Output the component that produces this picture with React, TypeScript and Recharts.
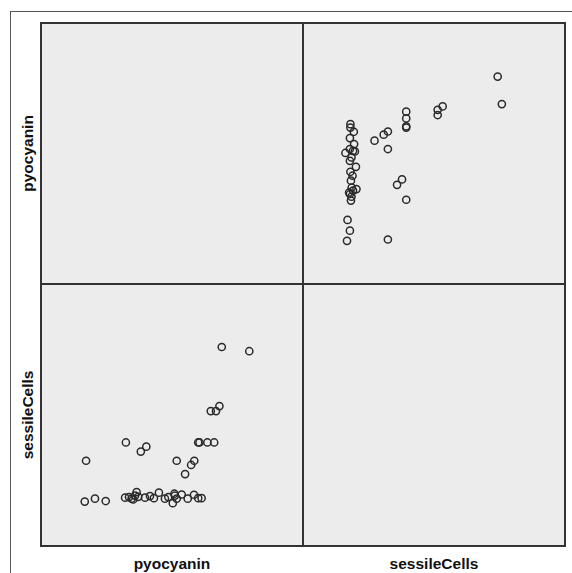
import React from "react";
import { ScatterChart, Scatter, XAxis, YAxis } from "recharts";

// Paired observations (scaled units, 0-100 range of each variable)
const pyocyanin: number[] = [
  79.5, 69.0, 68.1, 66.8, 64.8, 66.1, 63.5, 60.0, 60.5, 58.5,
  57.3, 55.0, 51.8, 40.2, 38.1, 32.4, 17.2, 24.7, 20.6, 16.7,
  61.3, 60.0, 58.4, 56.0, 53.7, 51.8, 50.3, 51.1, 50.9, 48.6,
  47.3, 45.0, 43.1, 41.6, 39.7, 37.1, 36.5, 34.6, 33.6, 32.1,
  35.9, 35.2,
];
const sessileCells: number[] = [
  74.3, 75.9, 53.3, 51.4, 51.4, 39.4, 39.4, 39.4, 39.4, 32.4,
  30.8, 27.3, 32.4, 37.8, 35.9, 39.4, 32.4, 17.0, 17.9, 16.8,
  18.1, 18.1, 19.4, 17.9, 19.5, 17.9, 16.2, 19.1, 19.8, 18.5,
  17.9, 20.2, 18.1, 18.9, 18.3, 18.6, 20.4, 17.9, 18.5, 18.3,
  19.1, 17.6,
];
const variables: string[] = ["pyocyanin", "sessileCells"];
const axisDomain: [number, number] = [0, 100];

const data = pyocyanin.map((p, i) => ({ pyocyanin: p, sessileCells: sessileCells[i] }));

const PANEL_W = 262;
const PANEL_H = 261.5;
const LEFT = 41;
const TOP = 22.7;

const ringShape = (props: any) => {
  const { cx, cy } = props;
  if (cx == null || cy == null) return <g />;
  return <circle cx={cx} cy={cy} r={3.6} fill="none" stroke="#2a2a2a" strokeWidth={1.5} />;
};

function Panel({ xKey, yKey }: { xKey?: string; yKey?: string }) {
  return (
    <div
      style={{
        width: PANEL_W,
        height: PANEL_H,
        background: "#ececec",
        position: "relative",
      }}
    >
      {xKey && yKey ? (
        <ScatterChart
          width={PANEL_W}
          height={PANEL_H}
          margin={{ top: 0, right: 0, bottom: 0, left: 0 }}
        >
          <XAxis type="number" dataKey={xKey} domain={axisDomain} hide />
          <YAxis type="number" dataKey={yKey} domain={axisDomain} hide />
          <Scatter data={data} shape={ringShape} isAnimationActive={false} />
        </ScatterChart>
      ) : null}
    </div>
  );
}

export default function App() {
  const font = '"Liberation Sans", Arial, Helvetica, sans-serif';
  return (
    <div
      style={{
        position: "absolute",
        left: 0,
        top: 0,
        width: 572,
        height: 573,
        background: "#ffffff",
        overflow: "hidden",
        fontFamily: font,
      }}
    >
      {/* outer frame */}
      <div
        style={{
          position: "absolute",
          left: 10,
          top: 11,
          width: 600,
          height: 600,
          border: "1px solid #555",
          boxSizing: "border-box",
        }}
      />
      {/* panels */}
      <div style={{ position: "absolute", left: LEFT, top: TOP }}>
        <Panel />
      </div>
      <div style={{ position: "absolute", left: LEFT + PANEL_W, top: TOP }}>
        <Panel xKey={variables[1]} yKey={variables[0]} />
      </div>
      <div style={{ position: "absolute", left: LEFT, top: TOP + PANEL_H }}>
        <Panel xKey={variables[0]} yKey={variables[1]} />
      </div>
      <div style={{ position: "absolute", left: LEFT + PANEL_W, top: TOP + PANEL_H }}>
        <Panel />
      </div>
      {/* grid lines */}
      <div
        style={{
          position: "absolute",
          left: LEFT - 1,
          top: TOP - 1,
          width: PANEL_W * 2 + 2,
          height: PANEL_H * 2 + 2,
          border: "2px solid #333",
          boxSizing: "border-box",
        }}
      />
      <div
        style={{
          position: "absolute",
          left: LEFT + PANEL_W - 1,
          top: TOP,
          width: 2,
          height: PANEL_H * 2,
          background: "#333",
        }}
      />
      <div
        style={{
          position: "absolute",
          left: LEFT,
          top: TOP + PANEL_H - 1,
          width: PANEL_W * 2,
          height: 2,
          background: "#333",
        }}
      />
      {/* labels */}
      <svg
        width={572}
        height={573}
        style={{ position: "absolute", left: 0, top: 0, pointerEvents: "none" }}
      >
        {variables.map((v, i) => (
          <text
            key={"x" + v}
            x={LEFT + PANEL_W * i + PANEL_W / 2}
            y={563}
            textAnchor="middle"
            dominantBaseline="central"
            fontFamily={font}
            fontWeight="bold"
            fontSize={15.5}
            fill="#111"
          >
            {v}
          </text>
        ))}
        {variables.map((v, i) => {
          const cy = TOP + PANEL_H * i + PANEL_H / 2;
          return (
            <text
              key={"y" + v}
              x={28}
              y={cy}
              textAnchor="middle"
              dominantBaseline="central"
              fontFamily={font}
              fontWeight="bold"
              fontSize={15.5}
              fill="#111"
              transform={`rotate(-90 28 ${cy})`}
            >
              {v}
            </text>
          );
        })}
      </svg>
    </div>
  );
}
